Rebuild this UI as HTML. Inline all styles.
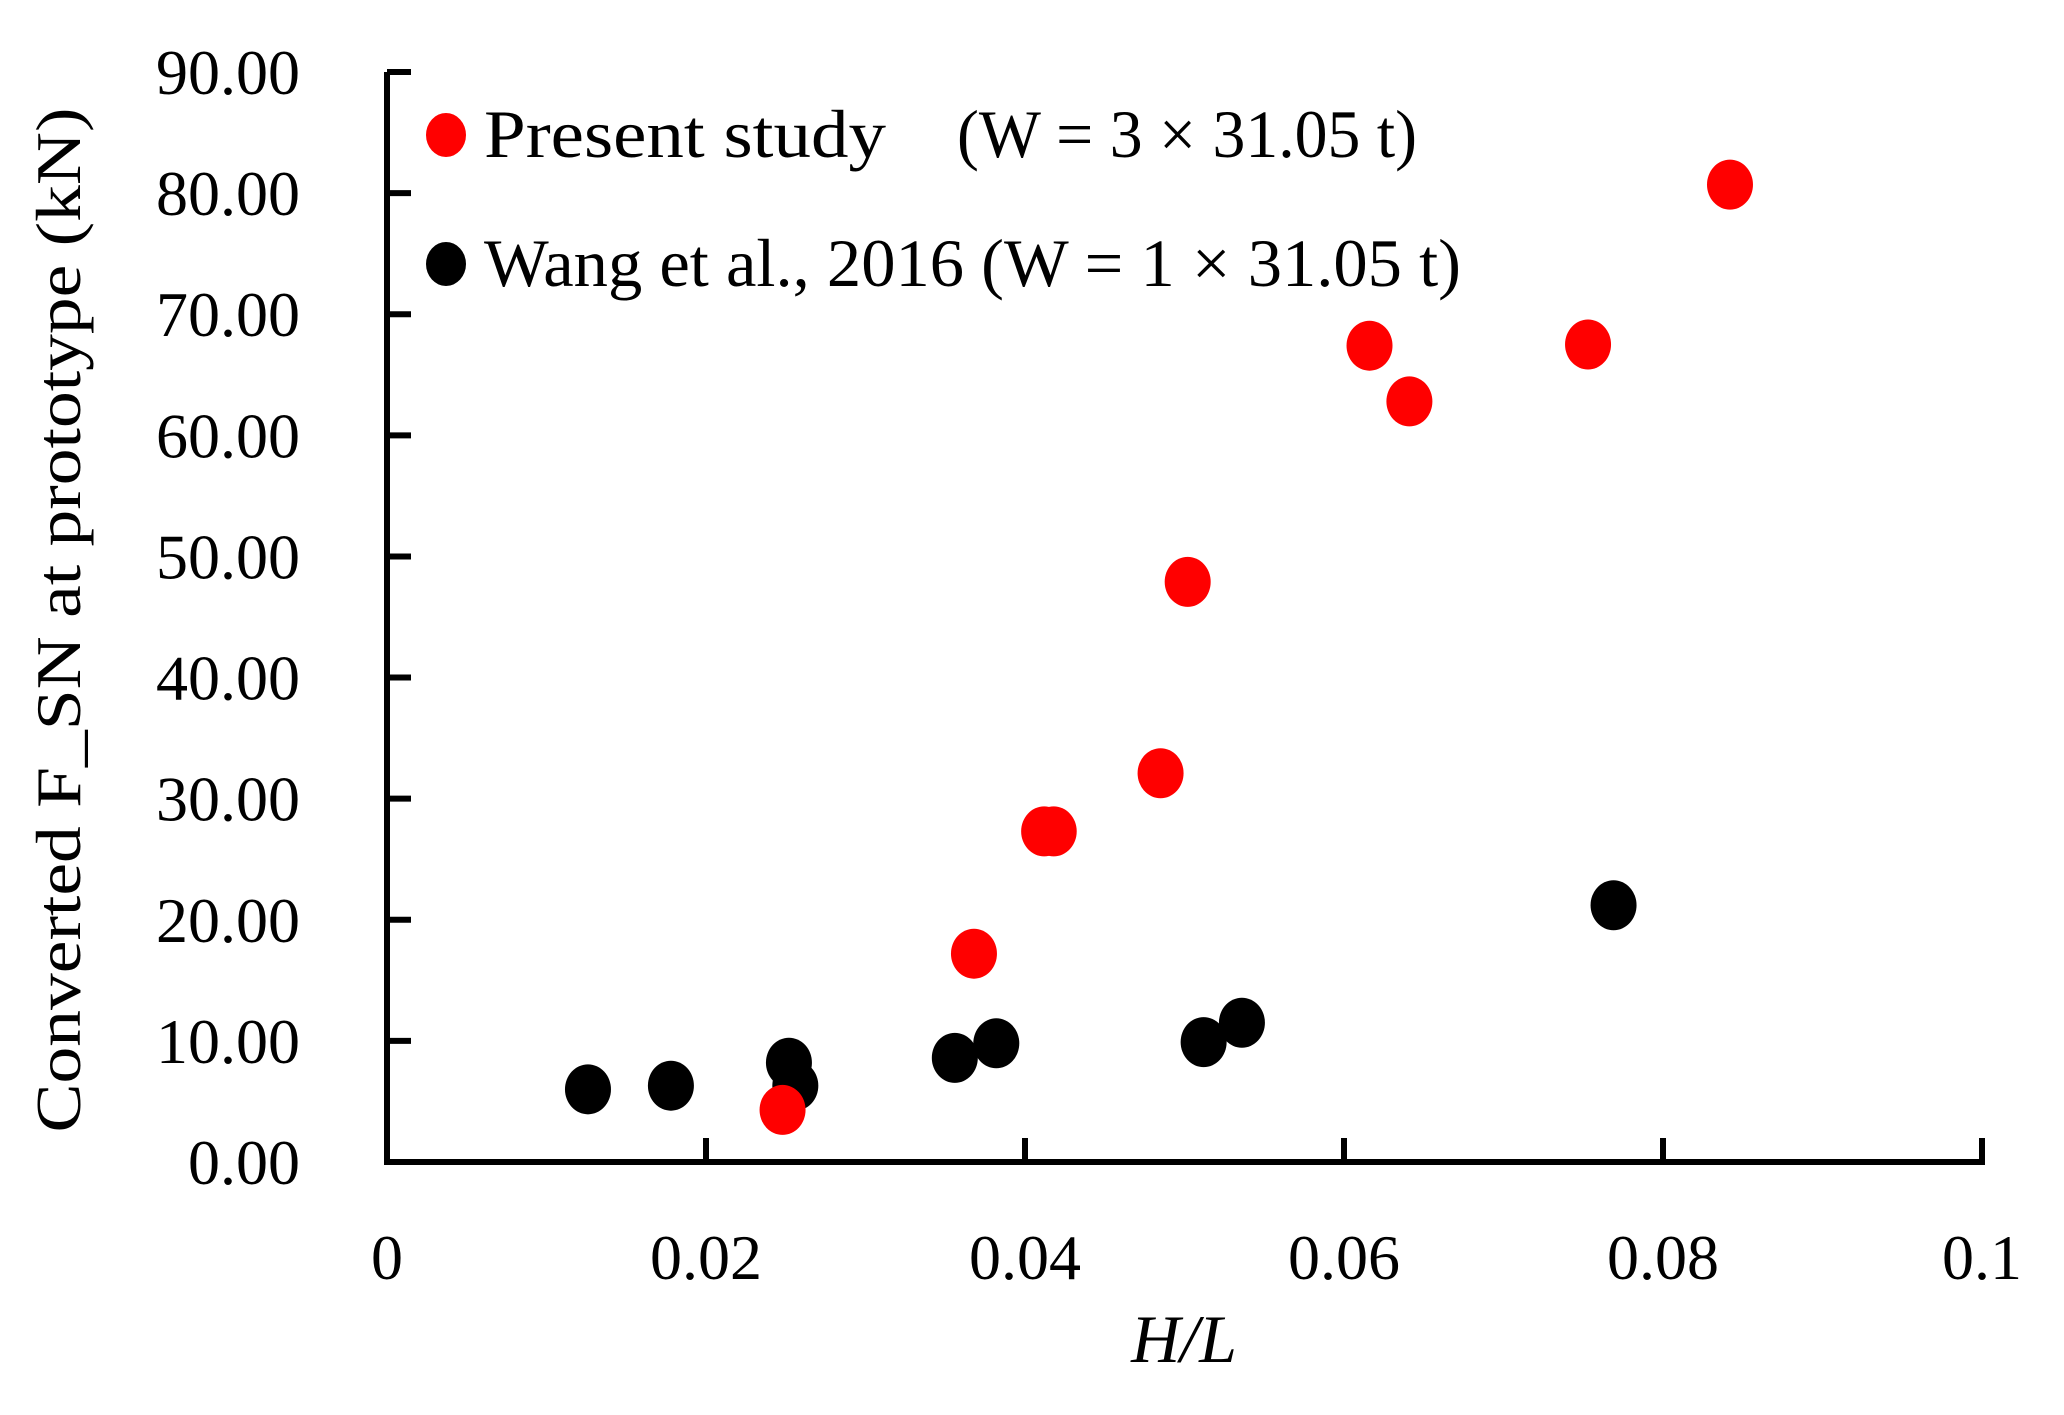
<!DOCTYPE html>
<html><head><meta charset="utf-8"><style>
html,body{margin:0;padding:0;background:#fff;}
svg{display:block;font-family:"Liberation Serif",serif;}
</style></head><body>
<svg id="chart" width="2064" height="1415" viewBox="0 0 2064 1415"></svg>
<script>
const xTicks=[0,0.02,0.04,0.06,0.08,0.1];
const xTickLabels=["0","0.02","0.04","0.06","0.08","0.1"];
const yTicks=[0,10,20,30,40,50,60,70,80,90];
const yTickLabels=["0.00","10.00","20.00","30.00","40.00","50.00","60.00","70.00","80.00","90.00"];
const presentX=[0.0248,0.0368,0.0412,0.0418,0.0485,0.0502,0.0616,0.0641,0.0753,0.0842];
const presentY=[4.3,17.2,27.3,27.3,32.1,47.9,67.4,62.8,67.5,80.7];
const wangX=[0.0126,0.0178,0.0252,0.0256,0.0356,0.0382,0.0512,0.0536,0.0769];
const wangY=[6.0,6.3,8.2,6.3,8.6,9.8,9.9,11.5,21.2];

const X0=387,X1=1982,Y0=1162,Y1=72;
const sx=v=>X0+(v-0)/(0.1-0)*(X1-X0);
const sy=v=>Y0-(v-0)/(90-0)*(Y0-Y1);
const svg=document.getElementById('chart');
const NS='http://www.w3.org/2000/svg';
function mk(tag,attrs,parent){const e=document.createElementNS(NS,tag);for(const k in attrs)e.setAttribute(k,attrs[k]);(parent||svg).appendChild(e);return e;}

let ax=mk('line',{x1:X0,y1:Y1,x2:X0,y2:Y0+3,stroke:'#000','stroke-width':6});


ax=mk('line',{x1:X0-3,y1:Y0,x2:X1+3,y2:Y0,stroke:'#000','stroke-width':6});



yTicks.forEach((v,i)=>{
  const y=sy(v);
  const t=mk('line',{x1:X0,y1:y,x2:X0+24,y2:y,stroke:'#000','stroke-width':6});
  
  
  const l=mk('text',{x:300,y:y+22,'text-anchor':'end','font-size':64});
  l.textContent=yTickLabels[i];
  
  
});
xTicks.forEach((v,i)=>{
  const x=sx(v);
  const t=mk('line',{x1:x,y1:Y0,x2:x,y2:Y0-24,stroke:'#000','stroke-width':6});
  
  
  const l=mk('text',{x:x,y:1279,'text-anchor':'middle','font-size':64});
  l.textContent=xTickLabels[i];
  
  
});

let tt=mk('text',{x:0,y:0,'text-anchor':'middle','font-size':64,transform:'translate(80,620) rotate(-90)',textLength:1025,lengthAdjust:'spacingAndGlyphs'});
tt.textContent='Converted F_SN at prototype (kN)';


tt=mk('text',{x:1184,y:1362,'text-anchor':'middle','font-size':68,'font-style':'italic'});
tt.textContent='H/L';



wangX.forEach((v,i)=>{
  const c=mk('ellipse',{cx:sx(v),cy:sy(wangY[i]),rx:23,ry:25,fill:'#000'});
  
  
});
presentX.forEach((v,i)=>{
  const c=mk('ellipse',{cx:sx(v),cy:sy(presentY[i]),rx:23,ry:25,fill:'#ff0000'});
  
  
});

const lg=mk('g',{});


let d=mk('ellipse',{cx:446,cy:135,rx:20,ry:22,fill:'#ff0000'},lg);


let tx=mk('text',{x:484,y:157,'font-size':68,textLength:402,lengthAdjust:'spacingAndGlyphs'},lg);
tx.textContent='Present study';


tx=mk('text',{x:957,y:157,'font-size':68,textLength:460,lengthAdjust:'spacingAndGlyphs'},lg);
tx.textContent='(W = 3 × 31.05 t)';


d=mk('ellipse',{cx:446,cy:264,rx:20,ry:22,fill:'#000'},lg);


tx=mk('text',{x:484,y:286,'font-size':68,textLength:977,lengthAdjust:'spacingAndGlyphs'},lg);
tx.textContent='Wang et al., 2016 (W = 1 × 31.05 t)';


</script>
</body></html>
